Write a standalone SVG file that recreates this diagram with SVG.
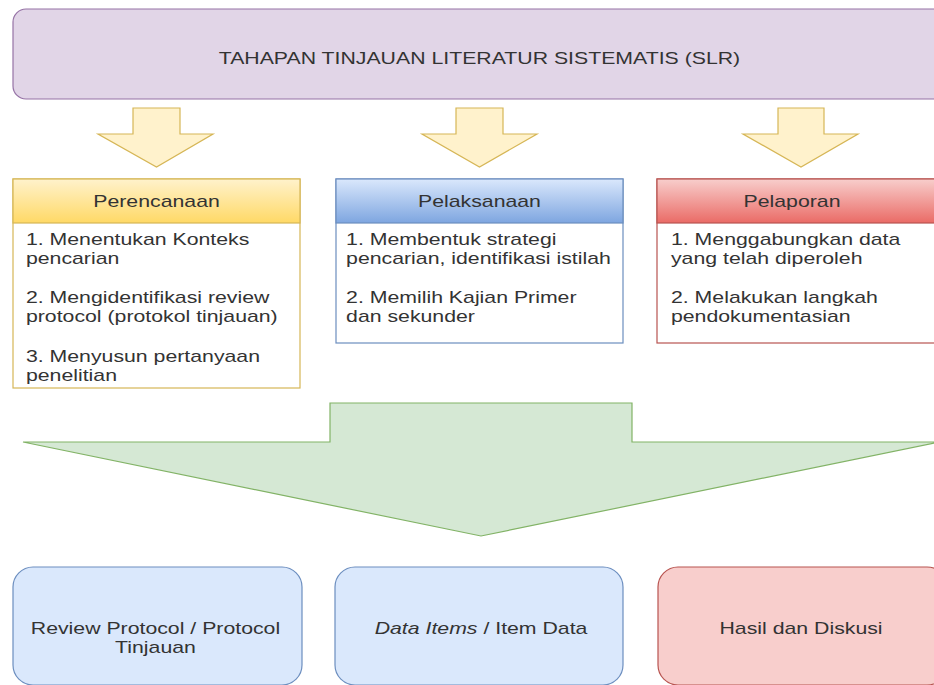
<svg xmlns="http://www.w3.org/2000/svg" width="934" height="685" viewBox="0 0 934 685">
  <defs>
    <linearGradient id="gradYellow" x1="0" y1="0" x2="0" y2="1">
      <stop offset="0" stop-color="#fff2cc"/>
      <stop offset="1" stop-color="#ffd966"/>
    </linearGradient>
    <linearGradient id="gradBlue" x1="0" y1="0" x2="0" y2="1">
      <stop offset="0" stop-color="#dae8fc"/>
      <stop offset="1" stop-color="#7ea6e0"/>
    </linearGradient>
    <linearGradient id="gradRed" x1="0" y1="0" x2="0" y2="1">
      <stop offset="0" stop-color="#f8cecc"/>
      <stop offset="1" stop-color="#ea6b66"/>
    </linearGradient>
  </defs>
  <style>
    text { font-family: "Liberation Sans", Arial, sans-serif; font-size: 16px; fill: #333333; }
    .mid { text-anchor: middle; }
    .purple { fill: #e1d5e7; stroke: #9673a6; stroke-width: 1.2; }
    .yarrow { fill: #fff2cc; stroke: #d6b656; stroke-width: 1.2; }
    .garrow { fill: #d5e8d4; stroke: #82b366; stroke-width: 1.2; }
    .panelY { stroke: #d6b656; stroke-width: 1.2; }
    .panelB { stroke: #6c8ebf; stroke-width: 1.2; }
    .panelR { stroke: #b85450; stroke-width: 1.2; }
    .boxB { fill: #dae8fc; stroke: #6c8ebf; stroke-width: 1.2; }
    .boxR { fill: #f8cecc; stroke: #b85450; stroke-width: 1.2; }
  </style>

  <rect width="934" height="685" fill="#ffffff"/>

  <!-- title -->
  <g id="title">
    <rect class="purple" x="13" y="9" width="940" height="90" rx="13" ry="13"/>
    <g transform="scale(1.33 1)">
      <text class="mid" x="360.5" y="64">TAHAPAN TINJAUAN LITERATUR SISTEMATIS (SLR)</text>
    </g>
  </g>

  <!-- connectors: block arrows -->
  <g id="connectors">
    <polygon class="yarrow" points="133,108 180,108 180,134 213,134 156.5,167 98,134 133,134"/>
    <polygon class="yarrow" points="456,108 503,108 503,134 537,134 479.5,167 422,134 456,134"/>
    <polygon class="yarrow" points="778,108 824,108 824,134 858,134 801,167 743,134 778,134"/>
    <polygon class="garrow" points="330,403 632,403 632,442 939,442 481,536 23,442 330,442"/>
  </g>

  <!-- planning -->
  <g id="perencanaan">
    <rect x="13" y="179" width="287" height="209" fill="#ffffff" class="panelY"/>
    <rect x="13" y="179" width="287" height="44" fill="url(#gradYellow)" class="panelY"/>
    <g transform="scale(1.33 1)">
      <text class="mid" x="117.7" y="207">Perencanaan</text>
      <text x="19.5" y="245">1. Menentukan Konteks</text>
      <text x="19.5" y="264">pencarian</text>
      <text x="19.5" y="303">2. Mengidentifikasi review</text>
      <text x="19.5" y="322">protocol (protokol tinjauan)</text>
      <text x="19.5" y="362">3. Menyusun pertanyaan</text>
      <text x="19.5" y="381">penelitian</text>
    </g>
  </g>

  <!-- execution -->
  <g id="pelaksanaan">
    <rect x="336" y="179" width="287" height="164" fill="#ffffff" class="panelB"/>
    <rect x="336" y="179" width="287" height="44" fill="url(#gradBlue)" class="panelB"/>
    <g transform="scale(1.33 1)">
      <text class="mid" x="360.5" y="207">Pelaksanaan</text>
      <text x="260.2" y="245">1. Membentuk strategi</text>
      <text x="260.2" y="264">pencarian, identifikasi istilah</text>
      <text x="260.2" y="303">2. Memilih Kajian Primer</text>
      <text x="260.2" y="322">dan sekunder</text>
    </g>
  </g>

  <!-- reporting -->
  <g id="pelaporan">
    <rect x="657" y="179" width="287" height="164" fill="#ffffff" class="panelR"/>
    <rect x="657" y="179" width="287" height="44" fill="url(#gradRed)" class="panelR"/>
    <g transform="scale(1.33 1)">
      <text class="mid" x="595.5" y="207">Pelaporan</text>
      <text x="504.5" y="245">1. Menggabungkan data</text>
      <text x="504.5" y="264">yang telah diperoleh</text>
      <text x="504.5" y="303">2. Melakukan langkah</text>
      <text x="504.5" y="322">pendokumentasian</text>
    </g>
  </g>

  <!-- outputs -->
  <g id="review-protocol">
    <rect class="boxB" x="13" y="567" width="289" height="118" rx="20" ry="20"/>
    <g transform="scale(1.33 1)">
      <text class="mid" x="116.9" y="634">Review Protocol / Protocol</text>
      <text class="mid" x="116.9" y="653">Tinjauan</text>
    </g>
  </g>

  <g id="data-items">
    <rect class="boxB" x="335" y="567" width="288" height="118" rx="20" ry="20"/>
    <g transform="scale(1.33 1)">
      <text class="mid" x="361.7" y="634"><tspan font-style="italic">Data Items</tspan> / Item Data</text>
    </g>
  </g>

  <g id="hasil-diskusi">
    <rect class="boxR" x="658" y="567" width="289" height="118" rx="20" ry="20"/>
    <g transform="scale(1.33 1)">
      <text class="mid" x="602.3" y="634">Hasil dan Diskusi</text>
    </g>
  </g>
</svg>
